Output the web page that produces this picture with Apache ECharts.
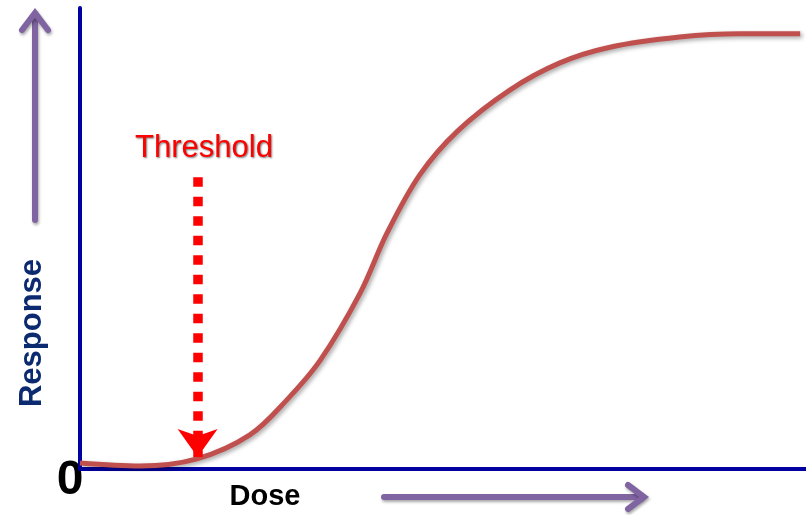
<!DOCTYPE html>
<html>
<head>
<meta charset="utf-8">
<script src="https://cdn.jsdelivr.net/npm/echarts@6/dist/echarts.min.js"></script>
<style>html,body{margin:0;padding:0;background:#fff}#c{width:806px;height:515px}</style>
</head>
<body>
<div id="c"></div>
<script>
// Dose (0-100) vs response (0-100)
const doseValues = [0, 8.3, 16.1, 23.4, 28.5, 33.1, 38.6, 42.3, 46.8, 52.0, 59.2, 66.1, 73.0, 82.6, 90.9, 99.2];
const responseValues = [1.3, 0.65, 2.2, 7.4, 15.0, 23.6, 38.2, 51.2, 63.8, 73.3, 82.2, 88.1, 91.5, 93.7, 94.4, 94.4];
const thresholdDose = 16.2;
const thresholdArrowFrom = 63.3;
const thresholdArrowTo = 2.6;
const labels = { threshold: 'Threshold', yName: 'Response', xName: 'Dose', origin: '0' };

const curve = doseValues.map((d, i) => [d, responseValues[i]]);
const chart = echarts.init(document.getElementById('c'));
const axisColor = '#0000A0';
const purple = '#8064A2';
const purpleShadow = { shadowColor: 'rgba(0,0,0,0.35)', shadowBlur: 3, shadowOffsetX: 1, shadowOffsetY: 2 };

chart.setOption({
  animation: false,
  grid: { left: 80, right: 0, top: 8, bottom: 46 },
  xAxis: {
    type: 'value', min: 0, max: 100,
    axisLine: { show: true, lineStyle: { color: axisColor, width: 4 } },
    axisTick: { show: false }, axisLabel: { show: false }, splitLine: { show: false }
  },
  yAxis: {
    type: 'value', min: 0, max: 100,
    axisLine: { show: true, lineStyle: { color: axisColor, width: 4 } },
    axisTick: { show: false }, axisLabel: { show: false }, splitLine: { show: false }
  },
  series: [{
    type: 'line',
    data: curve,
    smooth: 0.35,
    showSymbol: false,
    lineStyle: { color: '#C0504D', width: 5, shadowColor: 'rgba(0,0,0,0.35)', shadowBlur: 4, shadowOffsetX: 2, shadowOffsetY: 2 },
    markLine: {
      silent: true,
      symbol: ['none', 'arrow'],
      symbolSize: [30, 28],
      label: { show: false },
      lineStyle: { color: '#FF0000', width: 9.5, type: [9.5, 10], cap: 'butt', opacity: 1 },
      emphasis: { disabled: true },
      data: [[{ coord: [thresholdDose, thresholdArrowFrom] }, { coord: [thresholdDose, thresholdArrowTo] }]]
    }
  }],
  graphic: [
    { type: 'polyline', shape: { points: [[35, 220], [35, 14]] }, style: Object.assign({ stroke: purple, lineWidth: 6, lineCap: 'round' }, purpleShadow) },
    { type: 'polyline', shape: { points: [[22, 30], [35, 13], [48, 30]] }, style: Object.assign({ stroke: purple, lineWidth: 6, lineCap: 'round', lineJoin: 'miter', fill: null }, purpleShadow) },
    { type: 'polyline', shape: { points: [[384, 497], [640, 497]] }, style: Object.assign({ stroke: purple, lineWidth: 6, lineCap: 'round' }, purpleShadow) },
    { type: 'polyline', shape: { points: [[628, 485], [644, 497], [628, 509]] }, style: Object.assign({ stroke: purple, lineWidth: 6, lineCap: 'round', lineJoin: 'miter', fill: null }, purpleShadow) },
    { type: 'text', x: 204, y: 148, style: { text: labels.threshold, font: '31px "Liberation Sans", Arial, sans-serif', fill: '#FF0000', align: 'center', verticalAlign: 'middle', textShadowColor: 'rgba(0,0,0,0.55)', textShadowBlur: 2, textShadowOffsetX: 1, textShadowOffsetY: 1 } },
    { type: 'text', x: 32, y: 333, rotation: Math.PI / 2, style: { text: labels.yName, font: 'bold 31px "Liberation Sans", Arial, sans-serif', fill: '#0B2A6F', align: 'center', verticalAlign: 'middle' } },
    { type: 'text', x: 265, y: 497, style: { text: labels.xName, font: 'bold 29px "Liberation Sans", Arial, sans-serif', fill: '#000', align: 'center', verticalAlign: 'middle' } },
    { type: 'text', x: 70, y: 481, style: { text: labels.origin, font: 'bold 48px "Liberation Sans", Arial, sans-serif', fill: '#000', align: 'center', verticalAlign: 'middle' } }
  ]
});
</script>
</body>
</html>
